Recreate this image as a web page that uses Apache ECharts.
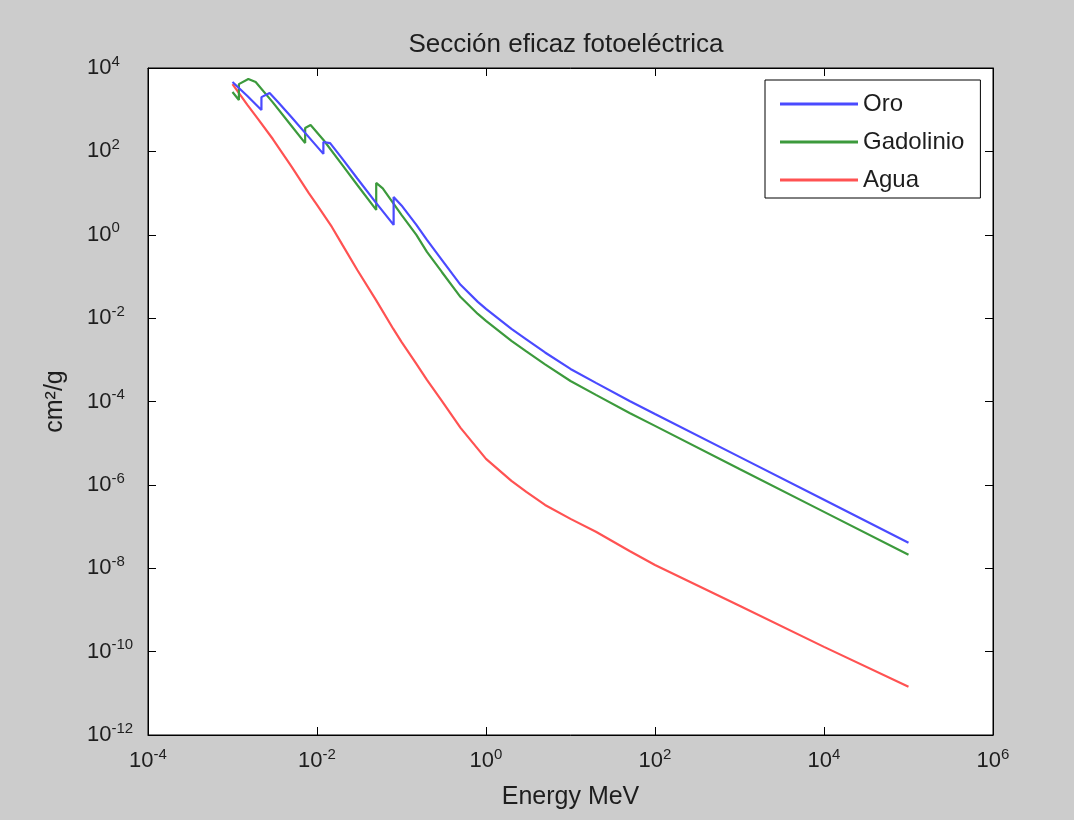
<!DOCTYPE html>
<html>
<head>
<meta charset="utf-8">
<script src="https://cdn.jsdelivr.net/npm/echarts@6/dist/echarts.min.js"></script>
<style>
html,body{margin:0;padding:0;background:#cccccc;}
#c{width:1074px;height:820px;}
</style>
</head>
<body>
<div id="c"></div>
<script>
// Energy (MeV) and photoelectric cross-section (cm^2/g)
const oroEnergy = [1e-3, 1.5e-3, 2.2e-3, 2.2e-3, 2.75e-3, 3.45e-3, 5e-3, 8e-3, 1.19e-2, 1.19e-2, 1.43e-2, 2e-2, 3e-2, 5e-2, 8.07e-2, 8.07e-2, 0.1, 0.15, 0.2, 0.3, 0.5, 0.8, 1, 2, 3, 5, 10, 20, 50, 100, 1e3, 1e4, 1e5];
const oroValues = [4600, 2130, 980, 2000, 2500, 1530, 660, 220, 87, 168, 158, 66, 22.4, 5.8, 1.72, 8.05, 5.05, 1.72, 0.75, 0.249, 0.063, 0.0245, 0.0166, 5.5e-3, 3.1e-3, 1.5e-3, 6.05e-4, 2.8e-4, 1.03e-4, 5.0e-5, 4.7e-6, 4.4e-7, 4.1e-8];

const gadolinioEnergy = [1e-3, 1.19e-3, 1.19e-3, 1.54e-3, 1.88e-3, 3e-3, 5e-3, 7.24e-3, 7.24e-3, 8.4e-3, 1.2e-2, 2e-2, 3e-2, 5.02e-2, 5.02e-2, 6e-2, 0.1, 0.15, 0.2, 0.3, 0.5, 0.8, 1, 2, 3, 5, 10, 20, 50, 100, 1e3, 1e4, 1e5];
const gadolinioValues = [2650, 1710, 4100, 5450, 4600, 1500, 406, 158, 364, 430, 185, 47, 15.6, 3.94, 17.5, 12.9, 3.0, 0.99, 0.387, 0.128, 0.032, 0.0126, 8.6e-3, 2.84e-3, 1.59e-3, 7.8e-4, 3.1e-4, 1.44e-4, 5.3e-5, 2.6e-5, 2.4e-6, 2.25e-7, 2.1e-8];

const aguaEnergy = [1e-3, 1.5e-3, 2e-3, 3e-3, 5e-3, 8e-3, 1e-2, 1.5e-2, 2e-2, 3e-2, 5e-2, 8e-2, 0.1, 0.15, 0.2, 0.3, 0.5, 0.8, 1, 2, 3, 5, 10, 20, 50, 100, 1e3, 1e4, 1e5];
const aguaValues = [4100, 1300, 600, 198, 43, 10, 5.2, 1.54, 0.57, 0.143, 0.027, 5.5e-3, 2.7e-3, 8.0e-4, 3.3e-4, 1.03e-4, 2.33e-5, 7.3e-6, 4.2e-6, 1.25e-6, 6.8e-7, 3.3e-7, 1.53e-7, 7.5e-8, 2.6e-8, 1.2e-8, 1.26e-9, 1.3e-10, 1.43e-11];

const seriesNames = ['Oro', 'Gadolinio', 'Agua'];
const seriesColors = ['#4a4aff', '#3c9a3c', '#ff5252'];

function pairs(xs, ys) { return xs.map((x, i) => [x, ys[i]]); }
function expLabel(v) {
  const e = Math.round(Math.log10(v));
  return '{b|10}{s|' + e + '}';
}
const FONT = 'Liberation Sans, Arial, sans-serif';
const txt = '#1e1e1e';
const rich = {
  b: {fontSize: 22, lineHeight: 28, color: txt, fontFamily: FONT},
  s: {fontSize: 15, lineHeight: 14, verticalAlign: 'top', color: txt, fontFamily: FONT}
};

const chart = echarts.init(document.getElementById('c'), null, {renderer: 'canvas'});
const baseX = {
  type: 'log', logBase: 10, min: 1e-4, max: 1e6, interval: 2,
  axisLine: {show: true, lineStyle: {color: '#000', width: 1}},
  axisTick: {show: true, inside: true, length: 8, lineStyle: {color: '#000', width: 1}},
  minorTick: {show: false}, splitLine: {show: false}
};
const baseY = {
  type: 'log', logBase: 10, min: 1e-12, max: 1e4, interval: 2,
  axisLine: {show: true, lineStyle: {color: '#000', width: 1}},
  axisTick: {show: true, inside: true, length: 8, lineStyle: {color: '#000', width: 1}},
  minorTick: {show: false}, splitLine: {show: false}
};

chart.setOption({
  backgroundColor: '#cccccc',
  animation: false,
  textStyle: {fontFamily: FONT},
  title: {
    text: 'Sección eficaz fotoeléctrica',
    left: 561, top: 27, textAlign: 'center',
    textStyle: {fontSize: 26, fontWeight: 'normal', color: txt, fontFamily: FONT}
  },
  grid: {left: 148, right: 81, top: 68, bottom: 85, containLabel: false, show: true, backgroundColor: '#ffffff', borderColor: '#000', borderWidth: 1},
  legend: {
    data: seriesNames,
    orient: 'vertical', left: 765, top: 80,
    backgroundColor: '#ffffff', borderColor: '#000', borderWidth: 1,
    padding: [12, 16, 6, 15],
    itemWidth: 78, itemHeight: 3, itemGap: 14, itemTextGap: 9,
    icon: 'rect',
    textStyle: {fontSize: 24, lineHeight: 20, color: txt, fontFamily: FONT}
  },
  xAxis: [
    Object.assign({}, baseX, {
      position: 'bottom',
      name: 'Energy MeV', nameLocation: 'middle', nameGap: 50,
      nameTextStyle: {fontSize: 25, color: txt, fontFamily: FONT},
      axisLabel: {show: true, margin: 12, formatter: expLabel, rich: rich, showMinLabel: true, showMaxLabel: true}
    }),
    Object.assign({}, baseX, {position: 'top', axisLabel: {show: false}})
  ],
  yAxis: [
    Object.assign({}, baseY, {
      position: 'left',
      name: 'cm²/g', nameLocation: 'middle', nameGap: 80, nameRotate: 90,
      nameTextStyle: {fontSize: 25, color: txt, fontFamily: FONT},
      axisLabel: {show: true, margin: 61, align: 'left', formatter: expLabel, rich: rich, showMinLabel: true, showMaxLabel: true}
    }),
    Object.assign({}, baseY, {position: 'right', axisLabel: {show: false}})
  ],
  series: [
    {name: seriesNames[0], type: 'line', data: pairs(oroEnergy, oroValues), showSymbol: false, symbol: 'none', lineStyle: {width: 2.2, color: seriesColors[0]}, itemStyle: {color: seriesColors[0]}, z: 3},
    {name: seriesNames[1], type: 'line', data: pairs(gadolinioEnergy, gadolinioValues), showSymbol: false, symbol: 'none', lineStyle: {width: 2.2, color: seriesColors[1]}, itemStyle: {color: seriesColors[1]}, z: 2},
    {name: seriesNames[2], type: 'line', data: pairs(aguaEnergy, aguaValues), showSymbol: false, symbol: 'none', lineStyle: {width: 2.2, color: seriesColors[2]}, itemStyle: {color: seriesColors[2]}, z: 1}
  ]
});
</script>
</body>
</html>
